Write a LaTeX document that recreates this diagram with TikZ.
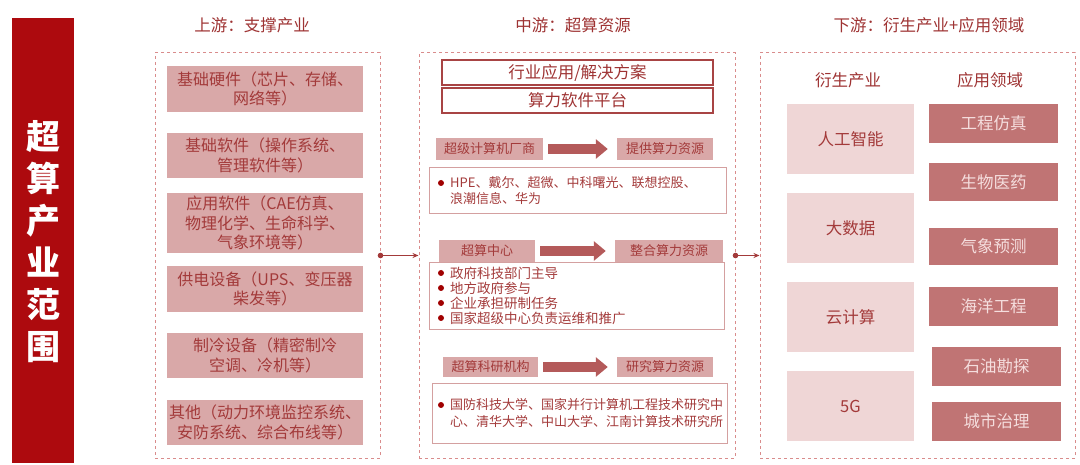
\documentclass[tikz,border=0pt]{standalone}
\usepackage{fontspec}
\setmainfont{Noto Sans CJK SC}
\usetikzlibrary{arrows.meta}
\definecolor{barred}{HTML}{AD0A0E}
\definecolor{headc}{HTML}{9E3333}
\definecolor{txtc}{HTML}{A33A3A}
\definecolor{lfill}{HTML}{D9A8A8}
\definecolor{dashc}{HTML}{D98C8C}
\definecolor{outc}{HTML}{A84444}
\definecolor{arrc}{HTML}{B45A5A}
\definecolor{tbord}{HTML}{D4A0A0}
\definecolor{bulc}{HTML}{A00000}
\definecolor{pinkf}{HTML}{EFD6D6}
\definecolor{darkf}{HTML}{C07474}
\definecolor{darkt}{HTML}{F5DEDE}
\tikzset{
  dbox/.style={draw=dashc, line width=1pt, dash pattern=on 3pt off 3pt, inner sep=0pt},
  head/.style={text=headc, font=\fontsize{16.5}{20}\selectfont, inner sep=0pt},
  lbox/.style={fill=lfill, text=txtc, minimum width=196pt, inner sep=0pt, align=center, font=\fontsize{16}{19.5}\selectfont},
  obox/.style={draw=outc, line width=1.3pt, minimum width=271pt, minimum height=25pt, text=headc, inner sep=0pt, font=\fontsize{16.5}{20}\selectfont},
  tag/.style={fill=lfill, text=txtc, minimum height=22pt, inner sep=0pt, font=\fontsize{13}{15}\selectfont},
  tbox/.style={draw=tbord, line width=0.9pt, inner sep=0pt},
  btxt/.style={text=txtc, anchor=west, inner sep=0pt, align=left},
  blk/.style={draw=arrc, line width=10pt, -{Triangle[length=12pt,width=19pt]}, shorten <=5pt, shorten >=9pt},
  pbox/.style={fill=pinkf, text=txtc, minimum width=127pt, minimum height=70pt, inner sep=0pt, font=\fontsize{16.5}{20}\selectfont},
  rbox/.style={fill=darkf, text=darkt, minimum width=129pt, inner sep=0pt, font=\fontsize{16.5}{20}\selectfont},
  conn/.style={draw=txtc, line width=1pt, -{Stealth[length=6pt,width=5pt]}},
}
\begin{document}
\begin{tikzpicture}[x=1pt,y=-1pt]
\useasboundingbox (0,0) rectangle (1080,465);
% red bar
\node[fill=barred, minimum width=62pt, minimum height=445pt, inner sep=0pt] (bar) at (43,240.5) {};
\node[text=white, align=center, font=\bfseries\fontsize{34}{42}\selectfont, inner sep=0pt] (bartxt) at (43,242) {超\\算\\产\\业\\范\\围};
% headers
\node[head] (h1) at (252,25) {上游：支撑产业};
\node[head] (h2) at (573,25) {中游：超算资源};
\node[head] (h3) at (929,25) {下游：衍生产业+应用领域};
% dashed boxes
\node[dbox, minimum width=225pt, minimum height=405pt] (L) at (267.5,255.5) {};
\node[dbox, minimum width=316pt, minimum height=405pt] (M) at (577,255.5) {};
\node[dbox, minimum width=315pt, minimum height=405pt] (R) at (917.5,255.5) {};
% left boxes
\node[lbox, minimum height=46pt] (l1) at (265,89) {基础硬件（芯片、存储、\\网络等）};
\node[lbox, minimum height=45pt] (l2) at (265,155.5) {基础软件（操作系统、\\管理软件等）};
\node[lbox, minimum height=60pt] (l3) at (265,223) {应用软件（CAE仿真、\\物理化学、生命科学、\\气象环境等）};
\node[lbox, minimum height=46pt] (l4) at (265,289) {供电设备（UPS、变压器\\柴发等）};
\node[lbox, minimum height=45pt] (l5) at (265,355.5) {制冷设备（精密制冷\\空调、冷机等）};
\node[lbox, minimum height=45pt] (l6) at (265,422.5) {其他（动力环境监控系统、\\安防系统、综合布线等）};
% middle outlined
\node[obox] (m1) at (577.5,72.5) {行业应用/解决方案};
\node[obox] (m2) at (577.5,100.5) {算力软件平台};
% row 1
\node[tag, minimum width=107pt] (a1) at (489.5,149) {超级计算机厂商};
\node[tag, minimum width=96pt] (b1) at (665,149) {提供算力资源};
\draw[blk] (a1) -- (b1);
\node[tbox, minimum width=297pt, minimum height=46pt] (t1) at (577.5,190) {};
\fill[bulc] (441,183) circle (3pt);
\node[btxt, font=\fontsize{13}{16}\selectfont] (t1txt) at (450,191) {HPE、戴尔、超微、中科曙光、联想控股、\\浪潮信息、华为};
% row 2
\node[tag, minimum width=96pt] (a2) at (487,251) {超算中心};
\node[tag, minimum width=108pt] (b2) at (669,251) {整合算力资源};
\draw[blk] (a2) -- (b2);
\node[tbox, minimum width=295pt, minimum height=67pt] (t2) at (576.5,295.5) {};
\foreach \yy in {273,288,303,318} \fill[bulc] (441,\yy) circle (3pt);
\node[btxt, font=\fontsize{13.5}{15}\selectfont] (t2txt) at (450,295.5) {政府科技部门主导\\地方政府参与\\企业承担研制任务\\国家超级中心负责运维和推广};
% row 3
\node[tag, minimum width=95pt, minimum height=20pt] (a3) at (490.5,367) {超算科研机构};
\node[tag, minimum width=96pt, minimum height=20pt] (b3) at (665,367) {研究算力资源};
\draw[blk] (a3) -- (b3);
\node[tbox, minimum width=295pt, minimum height=60pt] (t3) at (579.5,413) {};
\fill[bulc] (441,405) circle (3pt);
\node[btxt, font=\fontsize{13}{17}\selectfont] (t3txt) at (450,413.5) {国防科技大学、国家并行计算机工程技术研究中\\心、清华大学、中山大学、江南计算技术研究所};
% right
\node[head] (s1) at (848,80) {衍生产业};
\node[head] (s2) at (990,80) {应用领域};
\node[pbox] (p1) at (850.5,139) {人工智能};
\node[pbox] (p2) at (850.5,228) {大数据};
\node[pbox] (p3) at (850.5,317) {云计算};
\node[pbox] (p4) at (850.5,406) {5G};
\node[rbox, minimum height=39pt] (r1) at (993.5,123.5) {工程仿真};
\node[rbox, minimum height=38pt] (r2) at (993.5,182) {生物医药};
\node[rbox, minimum height=37pt] (r3) at (993.5,246.5) {气象预测};
\node[rbox, minimum height=39pt] (r4) at (993.5,306.5) {海洋工程};
\node[rbox, minimum height=39pt] (r5) at (996.5,366.5) {石油勘探};
\node[rbox, minimum height=39pt] (r6) at (996.5,421.5) {城市治理};
% connectors
\fill[txtc] (L.east) circle (2.8pt);
\draw[conn] (L.east) -- (M.west);
\fill[txtc] (M.east) circle (2.8pt);
\draw[conn] (M.east) -- (R.west);
\end{tikzpicture}
\end{document}
